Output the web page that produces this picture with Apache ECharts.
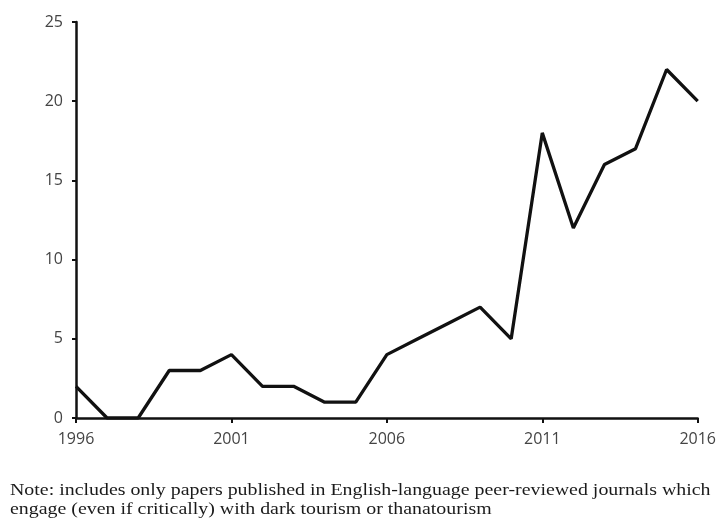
<!DOCTYPE html>
<html>
<head>
<meta charset="utf-8">
<script src="https://cdn.jsdelivr.net/npm/echarts@6/dist/echarts.min.js"></script>
<style>
html,body{margin:0;padding:0;background:#fff;}
#chart{width:719px;height:518px;}
</style>
</head>
<body>
<div id="chart"></div>
<script>
var years = ['1996','1997','1998','1999','2000','2001','2002','2003','2004','2005','2006','2007','2008','2009','2010','2011','2012','2013','2014','2015','2016'];
var papers = [2,0,0,3,3,4,2,2,1,1,4,5,6,7,5,18,12,16,17,22,20];
var yTicks = [0,5,10,15,20,25];
var noteLines = ['Note: includes only papers published in English-language peer-reviewed journals which', 'engage (even if critically) with dark tourism or thanatourism'];

var chart = echarts.init(document.getElementById('chart'));
chart.setOption({
  animation: false,
  backgroundColor: '#fff',
  grid: {left: 76, right: 21, top: 22, bottom: 100, containLabel: false},
  graphic: [{
    type: 'text', x: 10, y: 481, scaleX: 1.17,
    style: {text: noteLines.join('\n'), font: '17px "Liberation Serif", "Times New Roman", serif', fill: '#1a1a1a', lineHeight: 19}
  }],
  xAxis: {
    type: 'category', data: years, boundaryGap: false,
    axisLine: {lineStyle: {color: '#111', width: 2.5}},
    axisTick: {interval: 4, length: 5, lineStyle: {color: '#111', width: 2}},
    axisLabel: {interval: 4, color: '#444', fontSize: 16, fontFamily: '"Open Sans", sans-serif', margin: 13}
  },
  yAxis: {
    type: 'value', min: yTicks[0], max: yTicks[yTicks.length-1], interval: 5,
    splitLine: {show: false},
    axisLine: {show: true, lineStyle: {color: '#111', width: 2.5}},
    axisTick: {show: true, length: 4, lineStyle: {color: '#111', width: 2}},
    axisLabel: {color: '#444', fontSize: 16, fontFamily: '"Open Sans", sans-serif', margin: 13}
  },
  series: [{
    type: 'line', data: papers, symbol: 'none',
    lineStyle: {color: '#111', width: 3.3}
  }]
});
</script>
</body>
</html>
